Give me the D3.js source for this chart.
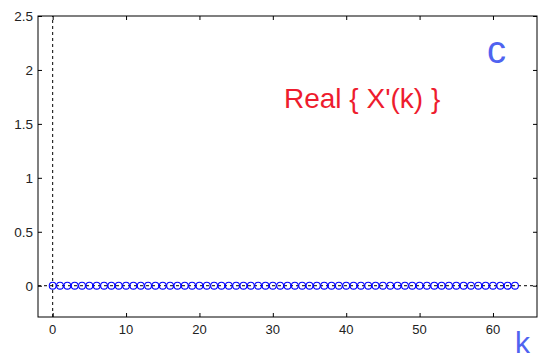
<!DOCTYPE html>
<html><head><meta charset="utf-8">
<script src="https://cdn.jsdelivr.net/npm/d3@7"></script>
<style>body{margin:0;background:#fff}svg{display:block}</style>
</head><body>
<script>
const kValues = d3.range(0, 64);
const realValues = kValues.map(() => 0);
const xTicks = [0, 10, 20, 30, 40, 50, 60];
const yTicks = [0, 0.5, 1, 1.5, 2, 2.5];
const xDomain = [-2, 66];
const yDomain = [-0.29, 2.5];
const titleText = "Real { X'(k) }";
const panelLabel = "c";
const xLabel = "k";

const W = 540, H = 360;
const m = {left: 38, right: 3, top: 16, bottom: 43};
const svg = d3.select("body").append("svg").attr("width", W).attr("height", H);
const x = d3.scaleLinear().domain(xDomain).range([m.left, W - m.right]);
const y = d3.scaleLinear().domain(yDomain).range([H - m.bottom, m.top]);

const font = "Arial, 'Liberation Sans', sans-serif";
// dashed zero lines
svg.append("line").attr("x1", x(0)).attr("x2", x(0)).attr("y1", y(yDomain[0])).attr("y2", y(yDomain[1]))
  .attr("stroke", "#000").attr("stroke-dasharray", "3,3").attr("stroke-width", 1);
svg.append("line").attr("x1", x(xDomain[0])).attr("x2", x(xDomain[1])).attr("y1", y(0)).attr("y2", y(0))
  .attr("stroke", "#000").attr("stroke-dasharray", "3,3").attr("stroke-width", 1);

// frame
svg.append("rect").attr("x", m.left).attr("y", m.top).attr("width", W - m.left - m.right)
  .attr("height", H - m.top - m.bottom).attr("fill", "none").attr("stroke", "#000").attr("stroke-width", 1);

// axes
const ax = (g) => g.selectAll(".domain").remove();
svg.append("g").attr("transform", `translate(0,${y(yDomain[0])})`)
  .call(d3.axisTop(x).tickValues(xTicks).tickSize(4).tickFormat(""))
  .call(ax);
svg.append("g").attr("transform", `translate(0,${y(yDomain[1])})`)
  .call(d3.axisBottom(x).tickValues(xTicks).tickSize(4).tickFormat(""))
  .call(ax);
svg.append("g").attr("transform", `translate(${x(xDomain[0])},0)`)
  .call(d3.axisRight(y).tickValues(yTicks).tickSize(4).tickFormat(""))
  .call(ax);
svg.append("g").attr("transform", `translate(${x(xDomain[1])},0)`)
  .call(d3.axisLeft(y).tickValues(yTicks).tickSize(4).tickFormat(""))
  .call(ax);
svg.selectAll(".tick line").attr("stroke", "#000");

// tick labels
svg.append("g").selectAll("text").data(xTicks).join("text")
  .attr("x", d => x(d)).attr("y", y(yDomain[0]) + 17).attr("text-anchor", "middle")
  .attr("font-family", font).attr("font-size", 13).attr("fill", "#222").text(d => d);
svg.append("g").selectAll("text").data(yTicks).join("text")
  .attr("x", m.left - 5).attr("y", d => y(d) + 5).attr("text-anchor", "end")
  .attr("font-family", font).attr("font-size", 13.5).attr("fill", "#222").text(d => d);

// markers
svg.append("g").selectAll("circle").data(kValues).join("circle")
  .attr("cx", (d) => x(d)).attr("cy", (d, i) => y(realValues[i])).attr("r", 3.4)
  .attr("fill", "none").attr("stroke", "#0000ff").attr("stroke-width", 1.1);

// annotations
svg.append("text").attr("x", 284).attr("y", 108).attr("font-family", font).attr("font-size", 28)
  .attr("fill", "#ee1c2e").text(titleText);
svg.append("text").attr("x", 487).attr("y", 63).attr("font-family", font).attr("font-size", 38)
  .attr("fill", "#4f63f0").text(panelLabel);
svg.append("text").attr("x", 515).attr("y", 353).attr("font-family", font).attr("font-size", 30)
  .attr("fill", "#4f63f0").text(xLabel);
</script>
</body></html>
